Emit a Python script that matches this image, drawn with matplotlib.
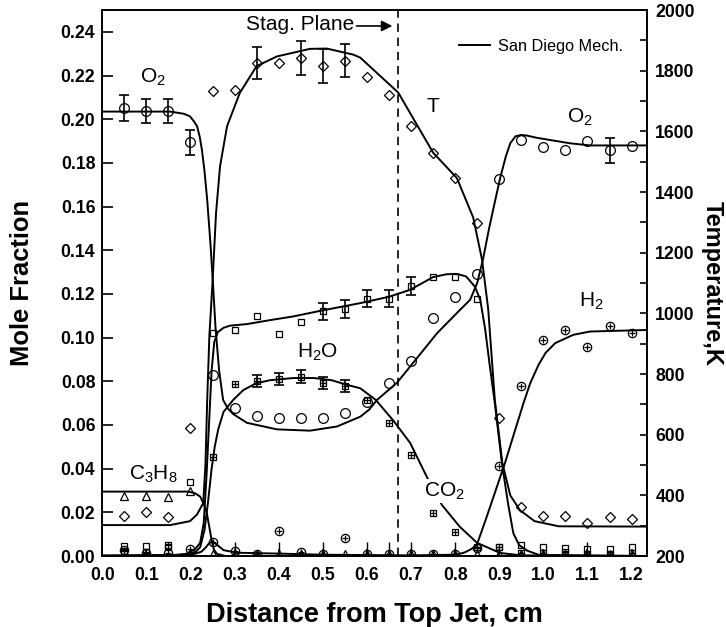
import matplotlib
matplotlib.use("Agg")
import matplotlib.pyplot as plt
from matplotlib.ticker import MultipleLocator, FormatStrFormatter

plt.rcParams['font.family'] = ['Liberation Sans', 'DejaVu Sans']
plt.rcParams['mathtext.default'] = 'regular'

# ---- measured points (x in cm) ----
x_meas = [0.05, 0.10, 0.15, 0.20, 0.25, 0.30, 0.35, 0.40, 0.45, 0.50, 0.55, 0.60,
          0.65, 0.70, 0.75, 0.80, 0.85, 0.90, 0.95, 1.00, 1.05, 1.10, 1.15, 1.20]

o2_meas = [0.2052, 0.2036, 0.2036, 0.1894, 0.0830, 0.0680, 0.0642, 0.0631, 0.0631, 0.0631,
           0.0654, 0.0707, 0.0794, 0.0895, 0.1092, 0.1186, 0.1292, 0.1728, 0.1903, 0.1873,
           0.1861, 0.1899, 0.1858, 0.1876]
h2o_meas = [0.0045, 0.0046, 0.0042, 0.0340, 0.1023, 0.1033, 0.1100, 0.1017, 0.1071, 0.1120,
            0.1130, 0.1178, 0.1178, 0.1237, 0.1277, 0.1277, 0.1178, 0.0040, 0.0050, 0.0040,
            0.0035, 0.0030, 0.0030, 0.0040]
co2_meas = [0.0025, 0.0020, 0.0052, 0.0005, 0.0455, 0.0788, 0.0802, 0.0811, 0.0822, 0.0791,
            0.0779, 0.0715, 0.0611, 0.0463, 0.0199, 0.0109, 0.0043, 0.0040, 0.0015, 0.0015,
            0.0020, 0.0010, 0.0010, 0.0015]
c3h8_meas = [0.0275, 0.0275, 0.0272, 0.0298, 0.0008, 0.0008, 0.0008, 0.0008, 0.0008, 0.0008,
             0.0008, 0.0008, 0.0008, 0.0008, 0.0008, 0.0008, 0.0008, 0.0008, 0.0008, 0.0008,
             0.0008, 0.0008, 0.0008, 0.0008]
h2_meas = [0.0027, 0.0014, 0.0014, 0.0030, 0.0066, 0.0024, 0.0008, 0.0116, 0.0020, 0.0010,
           0.0084, 0.0010, 0.0010, 0.0010, 0.0010, 0.0010, 0.0037, 0.0410, 0.0779, 0.0990,
           0.1036, 0.0956, 0.1051, 0.1020]
t_meas = [332, 346, 328, 621, 1732, 1738, 1824, 1824, 1842, 1815, 1833, 1778,
          1721, 1617, 1529, 1446, 1298, 654, 361, 332, 332, 310, 330, 322]

# error bars
o2_err_x = [0.05, 0.10, 0.15, 0.20, 1.15]
o2_err_y = [0.2052, 0.2036, 0.2036, 0.1894, 0.1858]
o2_err = [0.0060, 0.0055, 0.0055, 0.0056, 0.0057]
t_err_x = [0.35, 0.45, 0.50, 0.55]
t_err_y = [1824, 1842, 1815, 1833]
t_err = [53, 55, 55, 55]
h2o_err_x = [0.50, 0.55, 0.60, 0.65, 0.70]
h2o_err_y = [0.1120, 0.1130, 0.1178, 0.1178, 0.1237]
h2o_err = [0.0037, 0.0040, 0.0038, 0.0040, 0.0040]
co2_err_x = [0.35, 0.40, 0.45, 0.50, 0.55]
co2_err_y = [0.0802, 0.0811, 0.0822, 0.0791, 0.0779]
co2_err = [0.0028, 0.0028, 0.0028, 0.0028, 0.0028]
zero_err_x = [0.30, 0.40, 0.50, 0.60, 0.65, 0.70, 0.80, 1.10]
zero_err_y = [0.0005] * 8
zero_err = [0.006] * 8

# ---- San Diego mechanism curves ----
o2_x = [0.0, 0.154, 0.185, 0.199, 0.208, 0.215, 0.221, 0.226, 0.232, 0.238, 0.245, 0.251,
        0.257, 0.265, 0.274, 0.285, 0.297, 0.328, 0.396, 0.471, 0.532, 0.585, 0.605, 0.623,
        0.668, 0.705, 0.759, 0.811, 0.834, 0.850, 0.863, 0.877, 0.891, 0.902, 0.915, 0.925,
        0.937, 0.950, 0.963, 0.985, 1.015, 1.060, 1.106, 1.235]
o2_y = [0.2035, 0.2035, 0.2025, 0.2013, 0.1990, 0.1968, 0.1920, 0.1860, 0.1760, 0.1630,
        0.1440, 0.1250, 0.1040, 0.0850, 0.0715, 0.0675, 0.0650, 0.0610, 0.0580, 0.0574,
        0.0593, 0.0638, 0.0670, 0.0715, 0.0793, 0.0885, 0.1020, 0.1127, 0.1173, 0.1250,
        0.1357, 0.1500, 0.1630, 0.1730, 0.1830, 0.1890, 0.1922, 0.1928, 0.1925, 0.1915,
        0.1905, 0.1890, 0.1880, 0.1880]

h2o_x = [0.0, 0.15, 0.19, 0.21, 0.222, 0.230, 0.236, 0.242, 0.248, 0.254, 0.262, 0.275,
         0.290, 0.328, 0.380, 0.433, 0.500, 0.585, 0.650, 0.698, 0.750, 0.780, 0.804, 0.825,
         0.845, 0.857, 0.868, 0.878, 0.890, 0.906, 0.920, 0.932, 0.945, 0.963, 0.990, 1.235]
h2o_y = [0.0, 0.0002, 0.0010, 0.0030, 0.0060, 0.0150, 0.0350, 0.0600, 0.0850, 0.0980,
         0.1025, 0.1045, 0.1055, 0.1062, 0.1080, 0.1097, 0.1125, 0.1158, 0.1187, 0.1219,
         0.1277, 0.1290, 0.1292, 0.1280, 0.1233, 0.1173, 0.1040, 0.0880, 0.0700, 0.0426,
         0.0240, 0.0104, 0.0050, 0.0025, 0.0005, 0.0]

co2_x = [0.0, 0.18, 0.21, 0.222, 0.232, 0.240, 0.248, 0.255, 0.263, 0.275, 0.297, 0.320,
         0.348, 0.380, 0.433, 0.480, 0.520, 0.553, 0.585, 0.620, 0.660, 0.698, 0.736, 0.770,
         0.811, 0.850, 0.902, 0.950, 1.235]
co2_y = [0.0, 0.0003, 0.0015, 0.0040, 0.0120, 0.0250, 0.0400, 0.0500, 0.0580, 0.0660,
         0.0715, 0.0760, 0.0790, 0.0805, 0.0815, 0.0815, 0.0805, 0.0785, 0.0768, 0.0715,
         0.0620, 0.0518, 0.0362, 0.0234, 0.0133, 0.0060, 0.0014, 0.0003, 0.0]

c3h8_x = [0.0, 0.195, 0.210, 0.222, 0.230, 0.237, 0.243, 0.248, 0.253, 0.260, 0.280, 1.235]
c3h8_y = [0.0295, 0.0295, 0.0288, 0.0272, 0.0240, 0.0197, 0.0130, 0.0073, 0.0030, 0.0010,
          0.0, 0.0]

h2_x = [0.0, 0.18, 0.21, 0.225, 0.235, 0.243, 0.250, 0.258, 0.275, 0.305, 0.403, 0.50,
        0.70, 0.80, 0.82, 0.835, 0.849, 0.870, 0.913, 0.935, 0.955, 0.970, 0.989, 1.005,
        1.027, 1.068, 1.106, 1.235]
h2_y = [0.0003, 0.0005, 0.0010, 0.0020, 0.0040, 0.0060, 0.0066, 0.0055, 0.0027, 0.0015,
        0.0011, 0.0006, 0.0003, 0.0006, 0.0015, 0.0030, 0.0050, 0.0170, 0.0426, 0.0570,
        0.0700, 0.0790, 0.0875, 0.0930, 0.0975, 0.1013, 0.1028, 0.1035]

t_x = [0.0, 0.154, 0.199, 0.215, 0.229, 0.234, 0.238, 0.243, 0.250, 0.258, 0.267, 0.283,
       0.312, 0.350, 0.396, 0.471, 0.509, 0.569, 0.585, 0.671, 0.750, 0.804, 0.841, 0.861,
       0.875, 0.890, 0.907, 0.925, 0.947, 0.980, 1.035, 1.235]
t_y = [302, 302, 315, 337, 375, 500, 715, 930, 1100, 1330, 1484, 1617,
       1727, 1815, 1847, 1872, 1873, 1853, 1843, 1728, 1530, 1446, 1316, 1177,
       1014, 715, 507, 400, 351, 315, 298, 297]

stag_x = 0.671

# ---- figure ----
fig = plt.figure(figsize=(7.26, 6.27), dpi=100)
ax = fig.add_axes([0.1408, 0.1132, 0.7504, 0.8708])
axT = ax.twinx()

lw = 1.4
mk = dict(linestyle='none', color='black', mfc='none', mew=0.9)

for xs, ys in [(o2_x, o2_y), (h2o_x, h2o_y), (co2_x, co2_y), (c3h8_x, c3h8_y), (h2_x, h2_y)]:
    ax.plot(xs, ys, color='black', lw=lw)
line_t, = axT.plot(t_x, t_y, color='black', lw=lw, label='San Diego Mech.')

ax.axvline(stag_x, color='black', lw=1.2, ls=(0, (5, 3.5)))

# markers
ax.plot(x_meas, o2_meas, marker='o', ms=7, **mk)
ax.plot(x_meas, h2o_meas, marker='s', ms=4.5, **mk)
ax.plot(x_meas, co2_meas, marker='s', ms=4, **mk)
ax.plot(x_meas, co2_meas, marker='+', ms=4, **mk)
ax.plot(x_meas, c3h8_meas, marker='^', ms=6, **mk)
ax.plot(x_meas, h2_meas, marker='o', ms=6, **mk)
ax.plot(x_meas, h2_meas, marker='+', ms=5, **mk)
axT.plot(x_meas, t_meas, marker='D', ms=5, **mk)

eb = dict(fmt='none', ecolor='black', elinewidth=1.2, capsize=3.5, capthick=1.2)
ax.errorbar(o2_err_x, o2_err_y, yerr=o2_err, **eb)
ax.errorbar(h2o_err_x, h2o_err_y, yerr=h2o_err, **eb)
ax.errorbar(co2_err_x, co2_err_y, yerr=co2_err, **eb)
ax.errorbar(zero_err_x, zero_err_y, yerr=zero_err, fmt='none', ecolor='black',
            elinewidth=1.0, capsize=0)
axT.errorbar(t_err_x, t_err_y, yerr=t_err, **eb)

# axes setup
ax.set_xlim(0.0, 1.235)
ax.set_ylim(0.0, 0.25)
axT.set_ylim(200, 2000)
ax.set_xticks([i / 10 for i in range(13)])
ax.xaxis.set_major_formatter(FormatStrFormatter('%.1f'))
ax.set_yticks([i / 100 for i in range(0, 25, 2)])
ax.yaxis.set_major_formatter(FormatStrFormatter('%.2f'))
axT.set_yticks(list(range(200, 2001, 200)))
axT.yaxis.set_minor_locator(MultipleLocator(100))

ax.tick_params(axis='y', direction='in', length=8, width=1.2, pad=5)
ax.tick_params(axis='x', direction='in', length=5, width=1.2, pad=8)
axT.tick_params(axis='y', which='both', direction='in', length=5, width=1.2, pad=6)
for lab in ax.get_xticklabels() + ax.get_yticklabels() + axT.get_yticklabels():
    lab.set_fontsize(12.7)
    lab.set_fontweight('bold')
for a in (ax, axT):
    for s in a.spines.values():
        s.set_linewidth(1.2)

ax.set_xlabel('Distance from Top Jet, cm', fontsize=19.5, fontweight='bold', labelpad=13)
ax.set_ylabel('Mole Fraction', fontsize=18.4, fontweight='bold', labelpad=19)
axT.set_ylabel('Temperature,K', fontsize=17, fontweight='bold', rotation=270, labelpad=21)

# species labels
lbl = dict(fontsize=15, ha='center', va='baseline')
ax.text(0.115, 0.2166, r'O$_2$', **lbl)
ax.text(1.084, 0.1986, r'O$_2$', **lbl)
ax.text(0.749, 0.2032, 'T', **lbl)
ax.text(0.489, 0.0909, r'H$_2$O', **lbl)
ax.text(1.108, 0.1143, r'H$_2$', **lbl)
ax.text(0.776, 0.0272, r'CO$_2$', bbox=dict(facecolor='white', edgecolor='none', pad=1), **lbl)
ax.text(0.116, 0.0348, r'C$_3$H$_8$', **lbl)
ax.text(0.326, 0.2407, 'Stag. Plane', fontsize=15, ha='left', va='baseline')
ax.annotate('', xy=(0.664, 0.2427), xytext=(0.570, 0.2427),
            arrowprops=dict(arrowstyle='-|>', color='black', lw=1.2, mutation_scale=16))

axT.legend(handles=[line_t], loc='center left', bbox_to_anchor=(0.655, 0.934),
           frameon=False, fontsize=11.7, handlelength=1.9, handletextpad=0.5,
           borderpad=0, borderaxespad=0)

fig.savefig('out.png', dpi=100)
